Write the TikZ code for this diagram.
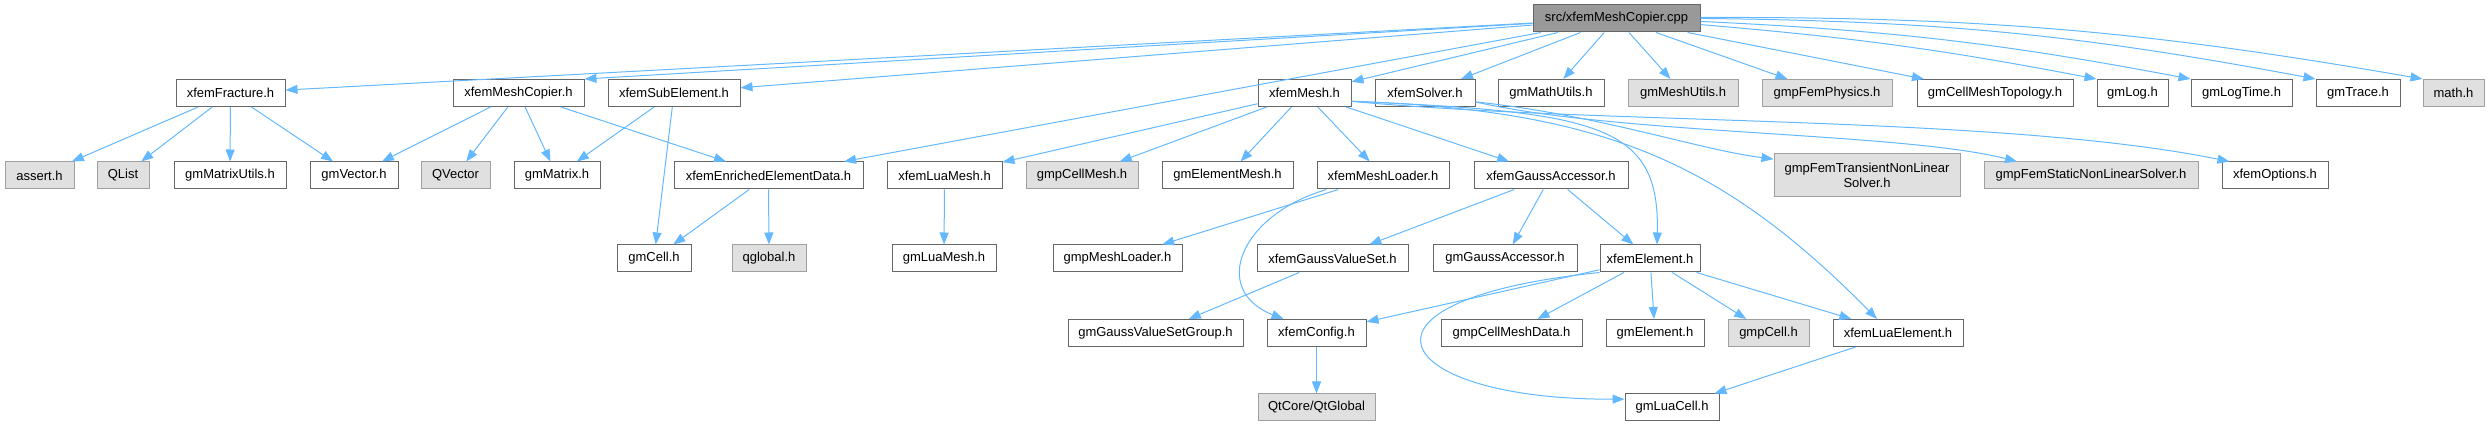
\documentclass[tikz,border=0pt]{standalone}
\usepackage{fontspec}
\setmainfont{Liberation Sans}
\usetikzlibrary{arrows.meta}
\definecolor{edgeblue}{HTML}{63B8FF}
\definecolor{boxline}{HTML}{666666}
\definecolor{sysline}{HTML}{A0A0A0}
\definecolor{sysfill}{HTML}{E0E0E0}
\definecolor{srcfill}{HTML}{999999}
\begin{document}
\begin{tikzpicture}[x=1pt,y=1pt]
\tikzstyle{every node}+=[inner sep=0pt]
\tikzstyle{hfile}=[draw=boxline, fill=white, line width=1pt, minimum height=27pt, font=\fontsize{13}{15}\selectfont]
\tikzstyle{sysfile}=[hfile, draw=sysline, fill=sysfill]
\tikzstyle{srcfile}=[hfile, fill=srcfill]
\tikzstyle{dep}=[draw=edgeblue, line width=1pt, -{Triangle[length=12pt,width=9pt]}]
\useasboundingbox (0,0) rectangle (2490,-427);
\node [srcfile, minimum width=167] (src) at (1616.5,-18.5) {src/xfemMeshCopier.cpp};
\node [hfile, minimum width=109] (frac) at (230.5,-93) {xfemFracture.h};
\node [hfile, minimum width=131] (mcop) at (518.5,-93) {xfemMeshCopier.h};
\node [hfile, minimum width=132] (sub) at (674,-93) {xfemSubElement.h};
\node [hfile, minimum width=93] (mesh) at (1304.5,-93) {xfemMesh.h};
\node [hfile, minimum width=100] (solver) at (1425,-93) {xfemSolver.h};
\node [hfile, minimum width=106] (mathu) at (1551,-93) {gmMathUtils.h};
\node [sysfile, minimum width=110] (meshu) at (1683,-93) {gmMeshUtils.h};
\node [sysfile, minimum width=130] (phys) at (1827,-93) {gmpFemPhysics.h};
\node [hfile, minimum width=156] (topo) at (1995,-93) {gmCellMeshTopology.h};
\node [hfile, minimum width=71] (log) at (2132.5,-93) {gmLog.h};
\node [hfile, minimum width=101] (logtime) at (2241.5,-93) {gmLogTime.h};
\node [hfile, minimum width=84] (trace) at (2358,-93) {gmTrace.h};
\node [sysfile, minimum width=61] (math) at (2453.5,-93) {math.h};
\node [sysfile, minimum width=69] (assert) at (39.5,-175.5) {assert.h};
\node [sysfile, minimum width=52] (qlist) at (123,-175.5) {QList};
\node [hfile, minimum width=112] (matutil) at (230,-175.5) {gmMatrixUtils.h};
\node [hfile, minimum width=88] (vector) at (354,-175.5) {gmVector.h};
\node [sysfile, minimum width=69] (qvector) at (455.5,-175.5) {QVector};
\node [hfile, minimum width=86] (matrix) at (557,-175.5) {gmMatrix.h};
\node [hfile, minimum width=189] (enrich) at (768.5,-175.5) {xfemEnrichedElementData.h};
\node [hfile, minimum width=115] (luamesh) at (944.5,-175.5) {xfemLuaMesh.h};
\node [sysfile, minimum width=112] (cellmesh) at (1082,-175.5) {gmpCellMesh.h};
\node [hfile, minimum width=131] (elmesh) at (1227.5,-175.5) {gmElementMesh.h};
\node [hfile, minimum width=132] (loader) at (1383,-175.5) {xfemMeshLoader.h};
\node [hfile, minimum width=154] (gacc) at (1551,-175.5) {xfemGaussAccessor.h};
\node [sysfile, minimum width=186, minimum height=43, align=center] (transient) at (1867,-175.5) {gmpFemTransientNonLinear\\Solver.h};
\node [sysfile, minimum width=214] (static) at (2091,-175.5) {gmpFemStaticNonLinearSolver.h};
\node [hfile, minimum width=106] (options) at (2275,-175.5) {xfemOptions.h};
\node [hfile, minimum width=74] (cell) at (654,-258.5) {gmCell.h};
\node [sysfile, minimum width=74] (qglobal) at (769,-258.5) {qglobal.h};
\node [hfile, minimum width=104] (gmluamesh) at (944,-258.5) {gmLuaMesh.h};
\node [hfile, minimum width=129] (gmploader) at (1117.5,-258.5) {gmpMeshLoader.h};
\node [hfile, minimum width=151] (gvset) at (1332.5,-258.5) {xfemGaussValueSet.h};
\node [hfile, minimum width=144] (gmgacc) at (1505,-258.5) {gmGaussAccessor.h};
\node [hfile, minimum width=100] (element) at (1650,-258.5) {xfemElement.h};
\node [hfile, minimum width=175] (gvsgroup) at (1155.5,-333) {gmGaussValueSetGroup.h};
\node [hfile, minimum width=99] (config) at (1316.5,-333) {xfemConfig.h};
\node [hfile, minimum width=141] (cmdata) at (1511.5,-333) {gmpCellMeshData.h};
\node [hfile, minimum width=98] (gmelem) at (1655,-333) {gmElement.h};
\node [sysfile, minimum width=81] (gmpcell) at (1768.5,-333) {gmpCell.h};
\node [hfile, minimum width=130] (luaelem) at (1898,-333) {xfemLuaElement.h};
\node [sysfile, minimum width=117] (qtglobal) at (1316.5,-407.5) {QtCore/QtGlobal};
\node [hfile, minimum width=94] (luacell) at (1672,-407.5) {gmLuaCell.h};
\draw [dep] (src) -- (frac);
\draw [dep] (src) -- (mcop.north east);
\draw [dep] (src) -- (sub);
\draw [dep] (src) -- (enrich);
\draw [dep] (src) -- (mesh);
\draw [dep] (src) -- (solver);
\draw [dep] (src) -- (mathu);
\draw [dep] (src) -- (meshu);
\draw [dep] (src) -- (phys);
\draw [dep] (src) -- (topo);
\draw [dep] (src) to[bend left=3] (log.north west);
\draw [dep] (src) to[bend left=4] (logtime.north west);
\draw [dep] (src) to[bend left=5] (trace.north west);
\draw [dep] (src) to[bend left=5] (math.north west);
\draw [dep] (frac) -- (assert);
\draw [dep] (frac) -- (qlist);
\draw [dep] (frac) -- (matutil);
\draw [dep] (frac) -- (vector);
\draw [dep] (mcop) -- (vector);
\draw [dep] (mcop) -- (qvector);
\draw [dep] (mcop) -- (matrix);
\draw [dep] (mcop) -- (enrich);
\draw [dep] (sub) -- (matrix);
\draw [dep] (sub) -- (cell);
\draw [dep] (enrich) -- (cell);
\draw [dep] (enrich) -- (qglobal);
\draw [dep] (mesh) -- (luamesh);
\draw [dep] (mesh) -- (cellmesh);
\draw [dep] (mesh) -- (elmesh);
\draw [dep] (mesh) -- (loader);
\draw [dep] (mesh) -- (gacc);
\draw [dep] (mesh.-10) .. controls (1600,-112) and (1660,-125) .. ([xshift=7pt]element.north);
\draw [dep] (mesh.-10) .. controls (1600,-110) and (1720,-160) .. ([xshift=-21pt]luaelem.north);
\draw [dep] (mesh.-10) .. controls (1600,-125) and (2000,-115) .. ([xshift=8pt]options.north west);
\draw [dep] (solver.-10) .. controls (1600,-115) and (1700,-150) .. (transient.170);
\draw [dep] (solver.-10) .. controls (1620,-135) and (1900,-132) .. ([xshift=-74pt]static.north);
\draw [dep] (luamesh) -- (gmluamesh);
\draw [dep] (loader) -- (gmploader);
\draw [dep] ([xshift=10pt]loader.south west) .. controls (1240,-215) and (1210,-290) .. ([xshift=-33pt]config.north);
\draw [dep] (gacc) -- (gvset);
\draw [dep] (gacc) -- (gmgacc);
\draw [dep] (gacc) -- (element);
\draw [dep] (gvset) -- (gvsgroup);
\draw [dep] (element) -- (config);
\draw [dep] (element.south west) .. controls (1330,-300) and (1390,-400) .. (luacell.170);
\draw [dep] (element) -- (cmdata);
\draw [dep] (element) -- (gmelem);
\draw [dep] (element) -- (gmpcell);
\draw [dep] (element) -- (luaelem);
\draw [dep] (luaelem) -- (luacell);
\draw [dep] (config) -- (qtglobal);
\end{tikzpicture}
\end{document}
